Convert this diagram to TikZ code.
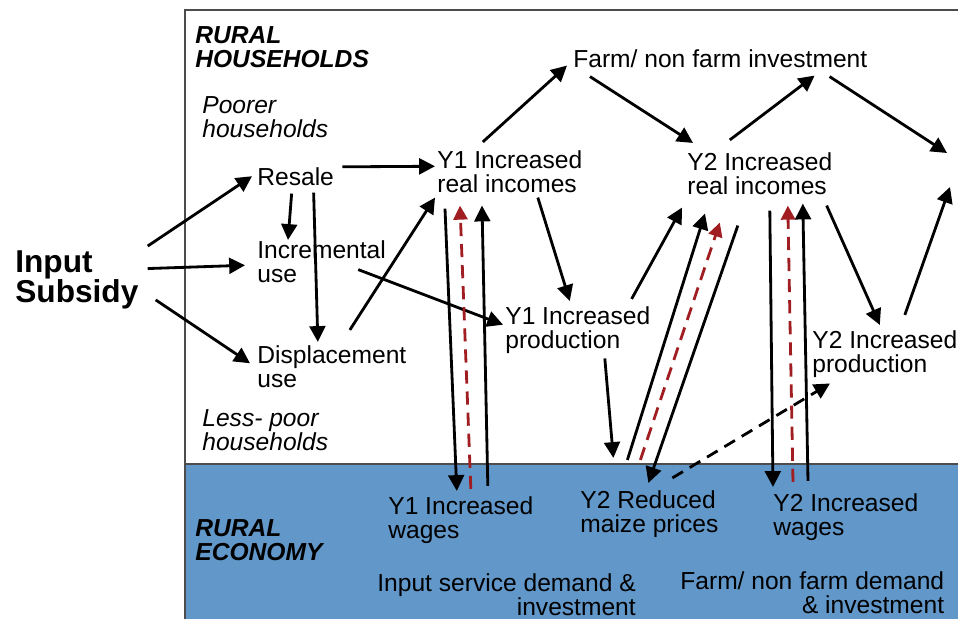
\documentclass[tikz,border=0pt]{standalone}
\usepackage{fontspec}
\setmainfont{Liberation Sans}
\usetikzlibrary{arrows.meta}
\definecolor{ecoblue}{RGB}{97,151,201}
\definecolor{dkred}{RGB}{160,30,34}
\tikzset{lbl/.style={anchor=base west, inner sep=0pt, align=left, font=\fontsize{14}{13.6}\selectfont}}
\tikzset{arr/.style={line width=1.6pt, -{Triangle[length=9pt,width=9pt]}}}
\tikzset{dasharr/.style={arr, dash pattern=on 7pt off 4.5pt}}
\tikzset{redarr/.style={line width=1.6pt, dkred, dash pattern=on 7.5pt off 4.5pt, -{Triangle[length=8pt,width=8pt]}}}

\begin{document}
\begin{tikzpicture}[x=0.02cm, y=-0.02cm]
\useasboundingbox (0,0) rectangle (958,619);
% frame and rural economy band
\fill[ecoblue] (185,464) rectangle (958,619);
\draw[black!70, line width=0.6pt] (958,10) -- (185,10) -- (185,619);
\draw[black!70, line width=0.6pt] (185,464) -- (958,464);
% labels (two-line labels sit on their last line)
\node[lbl, font=\fontsize{18}{17}\selectfont\bfseries] (sub) at (15,302) {Input\\Subsidy};
\node[lbl, font=\fontsize{14}{13.6}\selectfont\bfseries\itshape] (rh) at (195,67) {RURAL\\HOUSEHOLDS};
\node[lbl, font=\fontsize{14}{13.6}\selectfont\itshape] (poor) at (202,137) {Poorer\\households};
\node[lbl] (res) at (257,185) {Resale};
\node[lbl] (inc) at (257,282) {Incremental\\use};
\node[lbl] (dis) at (257,387) {Displacement\\use};
\node[lbl, font=\fontsize{14}{13.6}\selectfont\itshape] (less) at (202,450) {Less- poor\\households};
\node[lbl] (y1i) at (437,192) {Y1 Increased\\real incomes};
\node[lbl] (farm) at (573,67) {Farm/ non farm investment};
\node[lbl] (y2i) at (687,194) {Y2 Increased\\real incomes};
\node[lbl] (y1p) at (505,348) {Y1 Increased\\production};
\node[lbl] (y2p) at (812,372) {Y2 Increased\\production};
\node[lbl] (y1w) at (388,538) {Y1 Increased\\wages};
\node[lbl, font=\fontsize{14}{13.6}\selectfont\bfseries\itshape] (re) at (195,560) {RURAL\\ECONOMY};
\node[lbl, align=right] (isd) at (377,615) {Input service demand \&\\investment};
\node[lbl] (y2m) at (580,532) {Y2 Reduced\\maize prices};
\node[lbl] (y2w) at (773,535) {Y2 Increased\\wages};
\node[lbl, align=right] (fnd) at (680,613) {Farm/ non farm demand\\\& investment};
\coordinate (nxt1) at (947,153);
\coordinate (nxt2) at (950,187);
% household flows
\draw[arr] ([shift={(9,-4)}]sub.north east) -- ([shift={(-5,0)}]res.west);
\draw[arr] ([shift={(9,0)}]sub.10) -- ([shift={(-12,4)}]inc.west);
\draw[arr] ([shift={(17,-9)}]sub.south east) -- ([shift={(-7,-3)}]dis.west);
\draw[arr] ([shift={(8,0)}]res.north east) -- ([shift={(-2,-5)}]y1i.west);
\draw[arr] ([shift={(-4,8)}]res.south) -- ([shift={(31,0)}]inc.north west);
\draw[arr] ([shift={(18,7)}]res.south) -- ([shift={(-14,-3)}]dis.north);
\draw[arr] ([shift={(18,-15)}]dis.north) -- ([shift={(-2,5)}]y1i.south west);
\draw[arr] ([shift={(-28,-13)}]inc.south east) -- ([shift={(-2,-5)}]y1p.west);
\draw[arr] ([shift={(-27,-8)}]y1i.north) -- ([shift={(-6,-2)}]farm.south west);
\draw[arr] ([shift={(17,9)}]farm.south west) -- ([shift={(6,-9)}]y2i.north west);
\draw[arr] ([shift={(-30,-12)}]y2i.north) -- ([shift={(-53,8)}]farm.south east);
\draw[arr] ([shift={(-38,9)}]farm.south east) -- (nxt1);
\draw[arr] ([shift={(28,5)}]y1i.south) -- ([shift={(-8,-5)}]y1p.north);
\draw[arr] ([shift={(27,5)}]y1p.south) -- ([shift={(-36,-32)}]y2m.north);
\draw[arr] ([shift={(-19,-7)}]y1p.north east) -- ([shift={(-5,13)}]y2i.south west);
\draw[arr] ([shift={(-6,11)}]y2i.south east) -- ([shift={(-5,-5)}]y2p.north);
\draw[arr] ([shift={(20,-15)}]y2p.north) -- (nxt2);
% Y1 wages
\draw[arr] ([shift={(8,16)}]y1i.south west) -- ([shift={(-4,-5)}]y1w.north);
\draw[redarr] ([shift={(10,-7)}]y1w.north) -- ([shift={(23,13)}]y1i.south west);
\draw[arr] ([shift={(27,-10)}]y1w.north) -- ([shift={(45,13)}]y1i.south west);
% Y2 maize prices
\draw[arr] ([shift={(-22,-30)}]y2m.north) -- ([shift={(18,19)}]y2i.south west);
\draw[redarr] ([shift={(-9,-30)}]y2m.north) -- ([shift={(-40,28)}]y2i.south);
\draw[arr] ([shift={(-22,31)}]y2i.south) -- ([shift={(-1,-7)}]y2m.north);
\draw[dasharr] ([shift={(23,-12)}]y2m.north) -- ([shift={(18,6)}]y2p.south west);
% Y2 wages
\draw[arr] ([shift={(10,16)}]y2i.south) -- ([shift={(0,-6)}]y2w.north west);
\draw[redarr] ([shift={(20,-11)}]y2w.north west) -- ([shift={(28,11)}]y2i.south);
\draw[arr] ([shift={(35,-12)}]y2w.north west) -- ([shift={(43,9)}]y2i.south);
\end{tikzpicture}
\end{document}
